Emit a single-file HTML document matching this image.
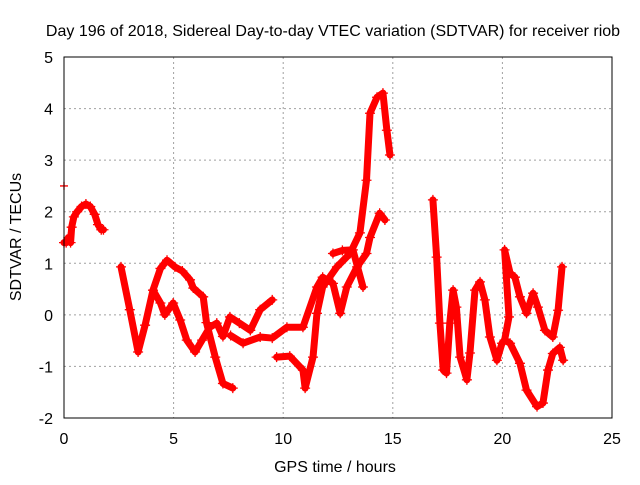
<!DOCTYPE html>
<html><head><meta charset="utf-8"><style>
body{margin:0;background:#fff}
svg text{font-family:"Liberation Sans",sans-serif;font-size:16px;fill:#000}
</style></head><body>
<svg id="c" width="640" height="480" xmlns="http://www.w3.org/2000/svg">
<text x="333" y="36" text-anchor="middle">Day 196 of 2018, Sidereal Day-to-day VTEC variation (SDTVAR) for receiver riob</text>
<text x="335" y="472" text-anchor="middle">GPS time / hours</text>
<text x="0" y="0" transform="translate(21,237) rotate(-90)" text-anchor="middle">SDTVAR / TECUs</text>
<g id="grid"></g><g id="ticks"></g><g id="marks"></g>
<rect x="64" y="57" width="548" height="361" fill="none" stroke="#000" stroke-width="1"/>
</svg>
<script>
const xTicks=[0,5,10,15,20,25];
const yTicks=[-2,-1,0,1,2,3,4,5];
const segAx=[0,0.1,0.2,0.3,0.35,0.45,0.6,0.8,1.0,1.2,1.4,1.55,1.7,1.8];
const segAy=[1.4,1.4,1.5,1.4,1.7,1.9,2.0,2.1,2.15,2.1,1.95,1.75,1.65,1.65];
const segBx=[2.6,3.0,3.38,3.7,4.06,4.4,4.7,5.06,5.4,5.75,5.9,6.35,6.5,6.9,7.25,7.7];
const segBy=[0.93,0.1,-0.72,-0.2,0.48,0.9,1.06,0.93,0.85,0.68,0.52,0.35,-0.15,-0.82,-1.33,-1.42];
const segCx=[4.06,4.4,4.6,4.98,5.3,5.6,5.98,6.3,6.65,6.97,7.25,7.57,8.0,8.5,8.95,9.5];
const segCy=[0.48,0.23,0.0,0.23,-0.1,-0.49,-0.72,-0.49,-0.24,-0.16,-0.42,-0.04,-0.16,-0.3,0.1,0.29];
const segDx=[7.6,8.17,8.95,9.5,10.17,10.9,11.54,11.8,12.27,12.6,12.9,13.37,13.8,13.96,14.4,14.64];
const segDy=[-0.4,-0.55,-0.43,-0.45,-0.24,-0.24,0.54,0.73,0.61,0.03,0.54,0.93,1.19,1.5,1.97,1.84];
const segEx=[9.7,10.3,10.9,11.0,11.36,11.54,11.8,12.45,13.05,13.5,13.8,13.96,14.28,14.55,14.73,14.87];
const segEy=[-0.82,-0.8,-1.07,-1.42,-0.82,0.03,0.54,0.93,1.19,1.59,2.61,3.91,4.22,4.3,3.58,3.1];
const segFx=[12.27,12.7,13.18,13.64];
const segFy=[1.19,1.25,1.26,0.54];
const segGx=[16.83,17.0,17.15,17.3,17.45,17.6,17.75,17.9,18.07,18.38,18.52,18.75,18.98,19.2,19.43,19.75,19.98,20.1,20.3,20.1,20.35,20.57,20.8,21.1,21.4,21.62,21.94,22.3,22.54,22.72];
const segGy=[2.23,1.12,-0.16,-1.07,-1.13,-0.16,0.48,0.15,-0.82,-1.26,-0.74,0.48,0.64,0.29,-0.43,-0.88,-0.55,-0.49,-0.04,1.26,0.81,0.73,0.35,0.03,0.42,0.15,-0.3,-0.43,0.09,0.93];
const segHx=[20.1,20.35,20.8,21.1,21.58,21.85,22.08,22.3,22.62,22.77];
const segHy=[-0.49,-0.55,-0.94,-1.46,-1.78,-1.71,-1.07,-0.75,-0.63,-0.88];
const lone=[[0,2.5]];
const X=v=>64+v*548/25, Y=v=>57+(5-v)*361/7;
const NS="http://www.w3.org/2000/svg";
const mk=(t,a,p)=>{const e=document.createElementNS(NS,t);for(const k in a)e.setAttribute(k,a[k]);document.getElementById(p).appendChild(e);return e;};
xTicks.forEach(v=>{
 if(v>0&&v<25){const g=mk('line',{x1:X(v),x2:X(v),y1:57,y2:418,stroke:'#a0a0a0','stroke-dasharray':'2,3'},'grid');
 
 }
 const t=mk('text',{x:X(v),y:444,'text-anchor':'middle'},'ticks');t.textContent=v;
 
 
});
yTicks.forEach(v=>{
 if(v>-2&&v<5){const g=mk('line',{x1:64,x2:612,y1:Y(v),y2:Y(v),stroke:'#a0a0a0','stroke-dasharray':'2,3'},'grid');
 
 }
 const t=mk('text',{x:53,y:Y(v)+6,'text-anchor':'end'},'ticks');t.textContent=v;
 
 
});
const segs=[[segAx,segAy],[segBx,segBy],[segCx,segCy],[segDx,segDy],[segEx,segEy],[segFx,segFy],[segGx,segGy],[segHx,segHy]];
segs.forEach(([xs,ys])=>{
 const pl=mk('polyline',{points:xs.map((x,i)=>X(x)+','+Y(ys[i])).join(' '),fill:'none',stroke:'#f00','stroke-width':7,'stroke-linejoin':'round','stroke-linecap':'round'},'marks');
 
 
 xs.forEach((x,i)=>{
  const p=mk('path',{d:`M${X(x)-5},${Y(ys[i])}h10M${X(x)},${Y(ys[i])-5}v10`,stroke:'#f00','stroke-width':1.3},'marks');
  
  
 });
});
lone.forEach(([x,y])=>{
 const p=mk('path',{d:`M${X(x)-4},${Y(y)}h8M${X(x)},${Y(y)-4}v8`,stroke:'#f00','stroke-width':1.3},'marks');
 
 
});
</script>
</body></html>
